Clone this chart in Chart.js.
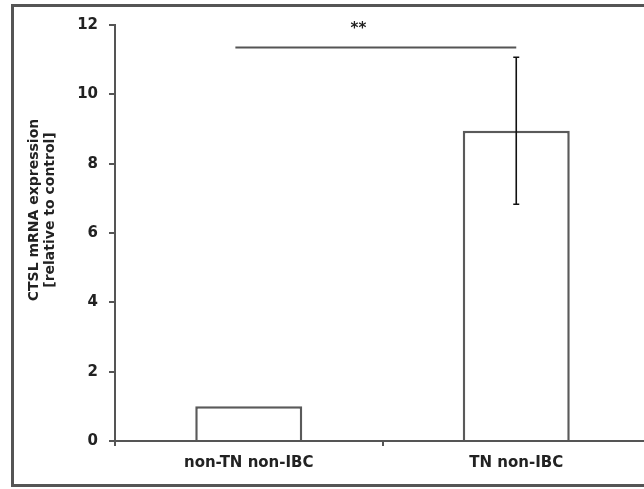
<!DOCTYPE html>
<html><head><meta charset="utf-8">
<script src="https://cdn.jsdelivr.net/npm/chart.js@4"></script>
<style>
html,body{margin:0;padding:0;background:#fff;overflow:hidden;}
#wrap{position:relative;width:644px;height:489px;overflow:hidden;}
#frame{position:absolute;left:11px;top:4px;width:720px;height:477px;border:3px solid #555;border-right:none;}
canvas{position:absolute;left:0;top:0;}
</style></head>
<body>
<div id="wrap"><div id="frame"></div><canvas id="c" style="width:650px;height:489px"></canvas></div>
<script>
const categories = ['non-TN non-IBC', 'TN non-IBC'];
const means = [1.0, 8.95];
const errors = [0, 2.12];
const yTicks = [0, 2, 4, 6, 8, 10, 12];
const yTitle = ['CTSL mRNA expression', '[relative to control]'];
const sig = {from: -0.05, to: 1, y: 11.35, text: '**', at: 0.41};

const font = 'DejaVu Sans';
const ink = '#222';

// error bars on top of the bars
const errPlugin = {
    id: 'err',
    afterDatasetsDraw(chart) {
        const ctx = chart.ctx, ys = chart.scales.y;
        chart.getDatasetMeta(0).data.forEach((el, i) => {
            if(!errors[i]) return;
            const t = ys.getPixelForValue(means[i] + errors[i]);
            const b = ys.getPixelForValue(means[i] - errors[i]);
            ctx.save();
            ctx.strokeStyle = '#111'; ctx.lineWidth = 1.6;
            ctx.beginPath();
            ctx.moveTo(el.x, t); ctx.lineTo(el.x, b);
            ctx.moveTo(el.x - 3, t); ctx.lineTo(el.x + 3, t);
            ctx.moveTo(el.x - 3, b); ctx.lineTo(el.x + 3, b);
            ctx.stroke();
            ctx.restore();
        });
    }
};

// significance bar, stars and the two-line y title
const notePlugin = {
    id: 'note',
    afterDraw(chart) {
        const ctx = chart.ctx, xs = chart.scales.x, ys = chart.scales.y;
        const y = ys.getPixelForValue(sig.y);
        ctx.save();
        ctx.strokeStyle = '#555'; ctx.lineWidth = 2;
        ctx.beginPath();
        ctx.moveTo(xs.getPixelForValue(sig.from), y);
        ctx.lineTo(xs.getPixelForValue(sig.to), y);
        ctx.stroke();
        ctx.fillStyle = ink;
        ctx.font = `bold 15px "${font}"`;
        ctx.textAlign = 'center';
        ctx.textBaseline = 'middle';
        ctx.fillText(sig.text, xs.getPixelForValue(sig.at), y - 18);

        const cy = (chart.chartArea.top + chart.chartArea.bottom) / 2 - 23;
        ctx.translate(34, cy);
        ctx.rotate(-Math.PI / 2);
        ctx.font = `bold 14px "${font}"`;
        yTitle.forEach((t, i) => ctx.fillText(t, 0, i * 16.5));
        ctx.restore();
    }
};

new Chart(document.getElementById('c'), {
    type: 'bar',
    data: {
        labels: categories,
        datasets: [{
            data: means,
            backgroundColor: '#fff',
            borderColor: '#5a5a5a',
            borderWidth: 2.5,
            barPercentage: 0.4,
            categoryPercentage: 1
        }]
    },
    options: {
        responsive: false,
        animation: false,
        events: [],
        layout: {padding: {top: 25, right: 0, left: 0, bottom: 0}},
        plugins: {legend: {display: false}, tooltip: {enabled: false}},
        scales: {
            x: {
                offset: true,
                grid: {drawOnChartArea: false, offset: true, tickLength: 5, color: '#555', lineWidth: 2},
                border: {color: '#555', width: 2},
                ticks: {color: ink, font: {family: font, weight: 'bold', size: 15}, padding: 8},
                afterFit: s => { s.height = 48; }
            },
            y: {
                min: 0, max: 12,
                afterBuildTicks: s => { s.ticks = yTicks.map(v => ({value: v})); },
                grid: {drawOnChartArea: false, tickLength: 6, color: '#555', lineWidth: 2},
                border: {color: '#555', width: 2},
                ticks: {color: ink, font: {family: font, weight: 'bold', size: 15}, padding: 11},
                afterFit: s => { s.width = 115; }
            }
        }
    },
    plugins: [errPlugin, notePlugin]
});
</script>
</body></html>
